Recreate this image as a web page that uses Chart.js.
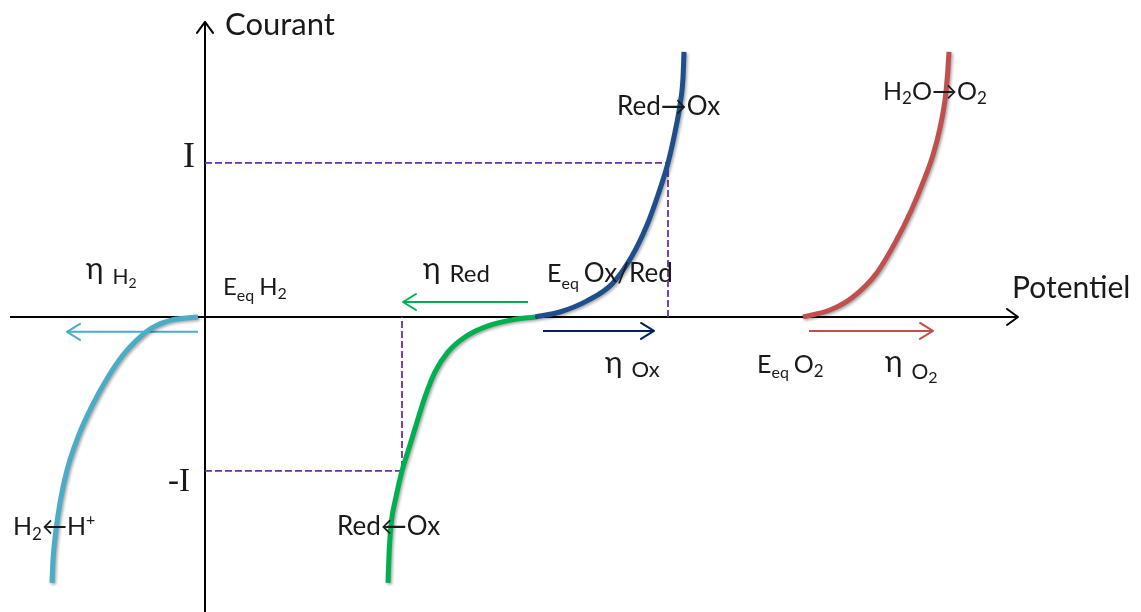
<!DOCTYPE html>
<html>
<head>
<meta charset="utf-8">
<script src="https://cdn.jsdelivr.net/npm/chart.js@4.4.0/dist/chart.umd.min.js"></script>
<style>
  html, body { margin: 0; padding: 0; background: #fff; }
  #wrap { width: 1141px; height: 612px; }
</style>
</head>
<body>
<div id="wrap"><canvas id="chart" width="1141" height="612"></canvas></div>
<script>
// x = potentiel, y = courant (I = 1)
const xRange = [-2.05, 9.36];
const yRange = [-1.916, 2.058];

const axisX = [[-1.95, 0], [8.13, 0]];
const axisY = [[0, -1.92], [0, 1.916]];

// H2 <- H+ (cathodic, solvent)
const curveH2 = [[-0.07, 0], [-0.33, -0.019], [-0.53, -0.071], [-0.68, -0.149], [-0.82, -0.247],
  [-0.97, -0.390], [-1.135, -0.584], [-1.27, -0.779], [-1.38, -0.994], [-1.445, -1.188],
  [-1.49, -1.383], [-1.52, -1.578], [-1.53, -1.727]];
// Red <- Ox
const curveRed = [[3.30, 0], [3.07, -0.019], [2.83, -0.058], [2.60, -0.130], [2.43, -0.227],
  [2.30, -0.357], [2.20, -0.519], [2.12, -0.682], [2.04, -0.851], [1.97, -1.0], [1.91, -1.169],
  [1.86, -1.351], [1.84, -1.545], [1.83, -1.727]];
// Red -> Ox
const curveOx = [[3.30, 0], [3.55, 0.032], [3.82, 0.104], [4.07, 0.214], [4.27, 0.396], [4.42, 0.597],
  [4.53, 0.792], [4.63, 1.0], [4.70, 1.201], [4.75, 1.377], [4.78, 1.552], [4.79, 1.721]];
// H2O -> O2 (anodic, solvent)
const curveO2 = [[5.98, 0], [6.25, 0.045], [6.48, 0.130], [6.71, 0.279], [6.90, 0.481], [7.06, 0.688],
  [7.19, 0.890], [7.28, 1.052], [7.35, 1.227], [7.40, 1.409], [7.425, 1.571], [7.44, 1.721]];

// dashed guides for +I / -I
const guidePlus = [[0, 1], [4.63, 1], [4.63, 0]];
const guideMinus = [[0, -1], [1.97, -1], [1.97, 0]];

// overpotential arrows (tail, head)
const etaH2 = [[-0.07, -0.097], [-1.38, -0.097]];
const etaRed = [[3.23, 0.097], [1.98, 0.097]];
const etaOx = [[3.38, -0.091], [4.49, -0.091]];
const etaO2 = [[6.04, -0.091], [7.28, -0.091]];

// text labels: anchor (x, y) in data units, runs of [text, size, dy, gap]
const labels = [
  { at: [0.20, 1.831], runs: [['Courant', 31]] },
  { at: [8.07, 0.123], runs: [['Potentiel', 30]] },
  { at: [-1.19, 0.214], runs: [['η', 30, -5], ['H', 21, 0, 9], ['2', 14, 4]] },
  { at: [0.18, 0.143], runs: [['E', 24], ['eq', 16, 6], ['H', 24, 0, 5], ['2', 16, 4]] },
  { at: [2.18, 0.227], runs: [['η', 30, -3], ['Red', 24, 0, 9]] },
  { at: [3.42, 0.227], runs: [['E', 25], ['eq', 16, 7], ['Ox/Red', 26, 0, 5]] },
  { at: [4.00, -0.390], runs: [['η', 30, -4], ['Ox', 22, 0, 9]] },
  { at: [5.52, -0.364], runs: [['E', 25], ['eq', 16, 5], ['O', 25, 0, 5], ['2', 17, 4]] },
  { at: [6.80, -0.403], runs: [['η', 30, -7], ['O', 21, 0, 9], ['2', 16, 4]] },
  { at: [4.12, 1.312], runs: [['Red', 26], ['→', 26], ['Ox', 26]] },
  { at: [6.78, 1.409], runs: [['H', 25], ['2', 17, 4], ['O', 25], ['→', 25], ['O', 25], ['2', 17, 4]] },
  { at: [-1.92, -1.416], runs: [['H', 25], ['2', 17, 5], ['←', 25], ['H', 25], ['+', 16, -10]] },
  { at: [1.32, -1.416], runs: [['Red', 26], ['←', 26], ['Ox', 26]] }
];
const serifLabels = [
  { at: [-0.22, 0.974], text: 'I', size: 36 },
  { at: [-0.37, -1.130], text: '-I', size: 33 }
];

const SANS = 'Lato, "Open Sans", sans-serif';
const SERIF = '"Liberation Serif", "DejaVu Serif", serif';

const toXY = arr => arr.map(p => ({ x: p[0], y: p[1] }));

function line(data, color, width, extra) {
  return Object.assign({
    data: toXY(data),
    showLine: true,
    borderColor: color,
    backgroundColor: color,
    borderWidth: width,
    pointRadius: 0,
    fill: false,
    tension: 0
  }, extra || {});
}

const curveStyle = { cubicInterpolationMode: 'monotone', shadow: true };

const datasets = [
  line(curveH2, '#4BACC6', 5, curveStyle),
  line(curveRed, '#00B050', 5, curveStyle),
  line(curveOx, '#1F4E8C', 5, curveStyle),
  line(curveO2, '#C0504D', 5, curveStyle),
  line(guidePlus, '#7030A0', 1.8, { borderDash: [7, 3] }),
  line(guideMinus, '#7030A0', 1.8, { borderDash: [7, 3] }),
  line(etaH2, '#4BACC6', 2, { head: true }),
  line(etaRed, '#00B050', 2, { head: true }),
  line(etaOx, '#002060', 2, { head: true }),
  line(etaO2, '#C0504D', 2, { head: true }),
  line(axisX, '#000', 2, { head: true, headLen: 11 }),
  line(axisY, '#000', 2, { head: true, headLen: 11 })
];

function px(chart, p) {
  return [chart.scales.x.getPixelForValue(p[0]), chart.scales.y.getPixelForValue(p[1])];
}

const decorations = {
  id: 'decorations',
  beforeDatasetDraw(chart, args) {
    if (chart.data.datasets[args.index].shadow) {
      const ctx = chart.ctx;
      ctx.save();
      ctx.shadowColor = 'rgba(0,0,0,0.35)';
      ctx.shadowBlur = 3;
      ctx.shadowOffsetX = 1.5;
      ctx.shadowOffsetY = 1.5;
    }
  },
  afterDatasetDraw(chart, args) {
    if (chart.data.datasets[args.index].shadow) chart.ctx.restore();
  },
  afterDatasetsDraw(chart) {
    const ctx = chart.ctx;
    ctx.save();
    ctx.lineCap = 'round';
    ctx.lineJoin = 'round';
    // open arrow heads
    chart.data.datasets.forEach(ds => {
      if (!ds.head) return;
      const pts = ds.data;
      const a = px(chart, [pts[pts.length - 2].x, pts[pts.length - 2].y]);
      const b = px(chart, [pts[pts.length - 1].x, pts[pts.length - 1].y]);
      const ang = Math.atan2(b[1] - a[1], b[0] - a[0]);
      const len = ds.headLen || 13;
      const wid = 8;
      ctx.strokeStyle = ds.borderColor;
      ctx.lineWidth = ds.borderWidth;
      ctx.beginPath();
      ctx.moveTo(b[0] - len * Math.cos(ang) + wid * Math.sin(ang), b[1] - len * Math.sin(ang) - wid * Math.cos(ang));
      ctx.lineTo(b[0], b[1]);
      ctx.lineTo(b[0] - len * Math.cos(ang) - wid * Math.sin(ang), b[1] - len * Math.sin(ang) + wid * Math.cos(ang));
      ctx.stroke();
    });

    // labels
    ctx.fillStyle = '#1a1a1a';
    ctx.textBaseline = 'alphabetic';
    ctx.textAlign = 'left';
    labels.forEach(lb => {
      let [x, y] = px(chart, lb.at);
      lb.runs.forEach(r => {
        const [t, size, dy = 0, gap = 0] = r;
        x += gap;
        ctx.font = size + 'px ' + SANS;
        ctx.fillText(t, x, y + dy);
        x += ctx.measureText(t).width;
      });
    });
    serifLabels.forEach(lb => {
      const [x, y] = px(chart, lb.at);
      ctx.font = lb.size + 'px ' + SERIF;
      ctx.fillText(lb.text, x, y);
    });
    ctx.restore();
  }
};

new Chart(document.getElementById('chart'), {
  type: 'scatter',
  data: { datasets },
  options: {
    responsive: false,
    animation: false,
    events: [],
    layout: { padding: 0 },
    scales: {
      x: { type: 'linear', min: xRange[0], max: xRange[1], display: false },
      y: { type: 'linear', min: yRange[0], max: yRange[1], display: false }
    },
    plugins: {
      legend: { display: false },
      tooltip: { enabled: false }
    }
  },
  plugins: [decorations]
});
</script>
</body>
</html>
